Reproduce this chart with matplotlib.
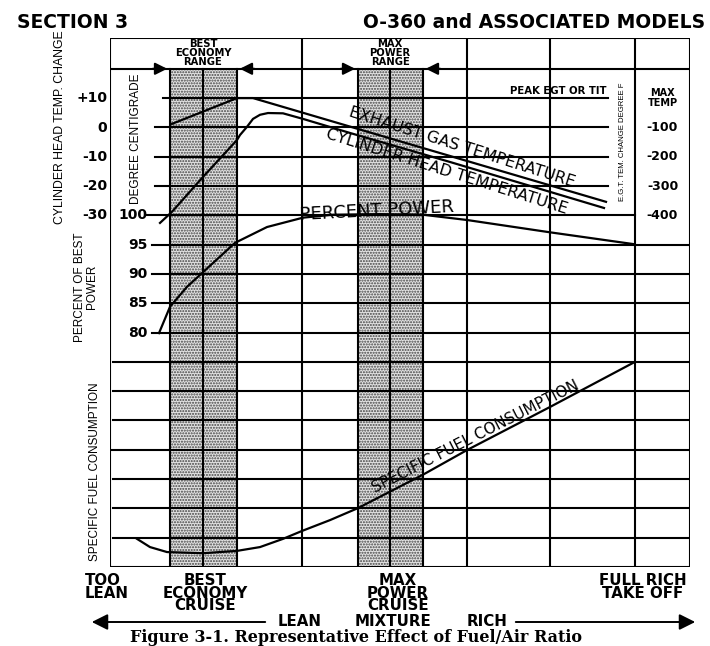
import matplotlib.pyplot as plt

# ---------------------------------------------------------------
# Dados (eixo x = escala arbitrária de mistura)
# ---------------------------------------------------------------
# Temperatura da cabeça do cilindro (variação em graus C)
cht_x = [5.0, 6.2, 9.3, 12.7, 13.0, 13.7, 14.3, 15.0, 15.8, 17.3, 19.3, 24.0, 34.0, 49.4]
cht_temp = [-32.6, -28.8, -16.9, -4.3, -2.6, 0.2, 2.9, 4.3, 4.9, 4.8, 2.9, -1.9, -11.8, -27.5]

# Temperatura do gás de escape (variação em graus F)
egt_x = [6.2, 12.7, 14.3, 49.6]
egt_temp = [-88, 0, 0, -354]

# Potência em percentagem da melhor potência
pwr_x = [4.9, 6.0, 7.7, 9.3, 12.5, 15.7, 19.3, 22.3, 27.0, 31.3, 35.7, 44.0, 52.3]
pwr_pct = [79.9, 84.4, 87.8, 90.3, 95.3, 98.0, 99.6, 100.1, 100.2, 100.1, 99.2, 97.1, 95.1]

# Consumo específico de combustível (unidades relativas)
sfc_x = [2.7, 4.0, 5.7, 9.3, 12.7, 15.0, 17.3, 19.2, 22.0, 24.8, 31.3, 35.7, 44.0, 52.5]
sfc_rel = [0.96, 0.68, 0.51, 0.47, 0.55, 0.68, 0.96, 1.23, 1.60, 2.01, 3.15, 3.99, 5.46, 7.0]

cht_ticks = ['+10', '0', '-10', '-20', '-30']
cht_vals = [10, 0, -10, -20, -30]
pwr_ticks = [100, 95, 90, 85, 80]
egt_ticks = [-100, -200, -300, -400]


# conversões das escalas para as linhas da grade (1 unidade = 1 linha)
def cht_y(t):
    return 15 + t / 10


def egt_y(t):
    return 16 + t / 100


def pwr_y(p):
    return 12 - (100 - p) / 5


W, H = 710, 646
fig = plt.figure(figsize=(W / 100, H / 100), dpi=100)
ax = fig.add_axes([110 / W, 1 - 567 / H, 580 / W, (567 - 38) / H])
ax.set_xlim(0, 58)
ax.set_ylim(0, 18.05)
ax.axis('off')
LW = 1.5
NARROW = ['Liberation Sans', 'DejaVu Sans']


def fpos(x, y):
    # posição em pixels (a partir do topo) -> fração da figura
    return x / W, 1 - y / H


# faixas pontilhadas (economia e potência máxima)
for x0, x1 in [(6.0, 12.7), (24.8, 31.3)]:
    ax.fill_between([x0, x1], 0, 17, facecolor='#e2e2e2', hatch='......',
                    edgecolor='#444444', linewidth=0, zorder=0)

# grade vertical
for x in [0, 19.2, 35.7, 44.0, 52.5, 58]:
    ax.plot([x, x], [0, 18.05], color='k', lw=LW, zorder=2)
for x in [6.0, 9.3, 12.7, 24.8, 28.0, 31.3]:
    ax.plot([x, x], [0, 17], color='k', lw=LW, zorder=2)

# grade horizontal
ax.plot([0, 58], [18.05, 18.05], color='k', lw=LW)
ax.plot([0, 58], [17, 17], color='k', lw=LW)
ax.plot([5.3, 49.8], [16, 16], color='k', lw=LW)
for r in [13, 14, 15]:
    ax.plot([4.5, 49.8], [r, r], color='k', lw=LW)
ax.plot([3.7, 52.5], [12, 12], color='k', lw=LW)
for r in [8, 9, 10, 11]:
    ax.plot([4.2, 58], [r, r], color='k', lw=LW)
for r in [1, 2, 3, 5, 6, 7]:
    ax.plot([0.3, 58], [r, r], color='k', lw=LW)
ax.plot([0, 58], [4, 4], color='k', lw=LW)
ax.plot([0, 58], [0, 0], color='k', lw=LW)

# setas das faixas
arr = dict(arrowstyle='-|>', color='k', lw=LW, mutation_scale=18)
ax.annotate('', xy=(6.0, 17), xytext=(4.0, 17), arrowprops=arr)
ax.annotate('', xy=(12.7, 17), xytext=(14.7, 17), arrowprops=arr)
ax.annotate('', xy=(24.8, 17), xytext=(22.8, 17), arrowprops=arr)
ax.annotate('', xy=(31.3, 17), xytext=(33.3, 17), arrowprops=arr)
ax.text(9.3, 17.53, 'BEST\nECONOMY\nRANGE', ha='center', va='center',
        fontsize=7.2, fontweight='bold', linespacing=0.85)
ax.text(28.0, 17.53, 'MAX\nPOWER\nRANGE', ha='center', va='center',
        fontsize=7.2, fontweight='bold', linespacing=0.85)

# curvas
ax.plot(cht_x, [cht_y(t) for t in cht_temp], color='k', lw=1.6, zorder=3)
ax.plot(egt_x, [egt_y(t) for t in egt_temp], color='k', lw=1.6, zorder=3)
ax.plot(pwr_x, [pwr_y(p) for p in pwr_pct], color='k', lw=1.6, zorder=3)
ax.plot(sfc_x, sfc_rel, color='k', lw=1.6, zorder=3)

# rótulos das curvas
ax.text(35.2, 14.32, 'EXHAUST GAS TEMPERATURE', rotation=-17.5, ha='center',
        va='center', fontsize=11.5, rotation_mode='anchor')
ax.text(33.7, 13.48, 'CYLINDER HEAD TEMPERATURE', rotation=-17.5, ha='center',
        va='center', fontsize=11.5, rotation_mode='anchor')
ax.text(26.7, 12.15, 'PERCENT POWER', rotation=3, ha='center', va='center',
        fontsize=13, rotation_mode='anchor')
ax.text(36.5, 4.45, 'SPECIFIC FUEL CONSUMPTION', rotation=27, ha='center',
        va='center', fontsize=11, rotation_mode='anchor')
ax.text(49.6, 16.07, 'PEAK EGT OR TIT', ha='right', va='bottom',
        fontsize=7.3, fontweight='bold')

# escala da direita (EGT)
ax.text(55.25, 16.0, 'MAX\nTEMP', ha='center', va='center', fontsize=7,
        fontweight='bold', linespacing=0.9)
for t in egt_ticks:
    ax.text(55.25, egt_y(t), str(t), ha='center', va='center', fontsize=9,
            fontweight='bold')
ax.text(51.2, 14.5, 'E.G.T. TEM. CHANGE DEGREE F', rotation=90, ha='center',
        va='center', fontsize=5.6, family=NARROW)

# escalas da esquerda
for lab, v in zip(cht_ticks, cht_vals):
    fig.text(*fpos(107, 567 - cht_y(v) * 29.3), lab, ha='right', va='center',
             fontsize=10, fontweight='bold')
for p in pwr_ticks:
    ax.text(3.75, pwr_y(p), str(p), ha='right', va='center', fontsize=10,
            fontweight='bold')
ax.text(2.6, 14.6, 'DEGREE CENTIGRADE', rotation=90, ha='center', va='center',
        fontsize=8.5, family=NARROW)
fig.text(*fpos(60, 127), 'CYLINDER HEAD TEMP. CHANGE', rotation=90,
         ha='center', va='center', fontsize=8.8, family=NARROW)
fig.text(*fpos(86, 287), 'PERCENT OF BEST\nPOWER', rotation=90, ha='center',
         va='center', fontsize=8.5, family=NARROW, linespacing=0.95)
fig.text(*fpos(95, 472), 'SPECIFIC FUEL CONSUMPTION', rotation=90,
         ha='center', va='center', fontsize=8.5, family=NARROW)

# cabeçalho
fig.text(*fpos(17, 22), 'SECTION 3', ha='left', va='center', fontsize=13.5,
         fontweight='bold')
fig.text(*fpos(705, 22), 'O-360 and ASSOCIATED MODELS', ha='right',
         va='center', fontsize=13.5, fontweight='bold')

# textos de baixo
bot = dict(fontsize=10.8, fontweight='bold', linespacing=0.82)
fig.text(*fpos(85, 587), 'TOO\nLEAN', ha='left', va='center', **bot)
fig.text(*fpos(205, 593), 'BEST\nECONOMY\nCRUISE', ha='center', va='center', **bot)
fig.text(*fpos(398, 593), 'MAX\nPOWER\nCRUISE', ha='center', va='center', **bot)
fig.text(*fpos(643, 587), 'FULL RICH\nTAKE OFF', ha='center', va='center', **bot)
fig.text(*fpos(300, 622), 'LEAN', ha='center', va='center', **bot)
fig.text(*fpos(393, 622), 'MIXTURE', ha='center', va='center', **bot)
fig.text(*fpos(487, 622), 'RICH', ha='center', va='center', **bot)
big = dict(arrowstyle='-|>', color='k', lw=1.4, mutation_scale=24)
ax.annotate('', xy=(89, H - 622), xytext=(268, H - 622),
            xycoords='figure pixels', textcoords='figure pixels',
            arrowprops=big, annotation_clip=False)
ax.annotate('', xy=(698, H - 622), xytext=(513, H - 622),
            xycoords='figure pixels', textcoords='figure pixels',
            arrowprops=big, annotation_clip=False)
fig.text(*fpos(356, 637), 'Figure 3-1. Representative Effect of Fuel/Air Ratio',
         ha='center', va='center', fontsize=11.5, fontweight='bold',
         family='DejaVu Serif')

fig.savefig('out.png', dpi=100)
